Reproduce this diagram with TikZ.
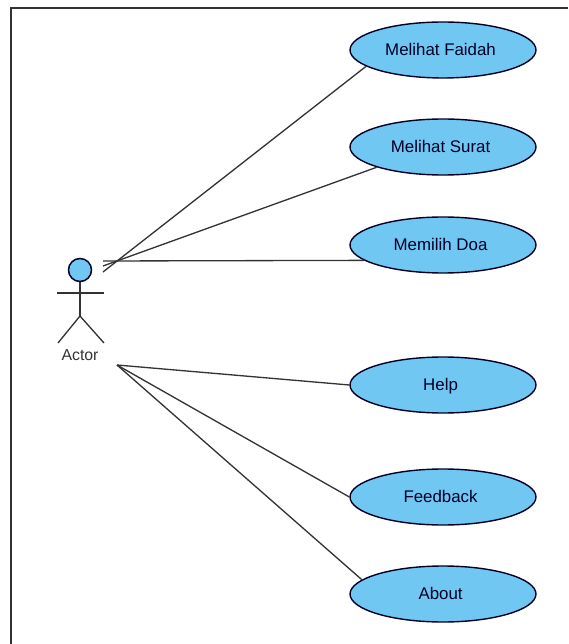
\documentclass[tikz,border=0pt]{standalone}
\usepackage{fontspec}
\setmainfont{Liberation Sans}
\usetikzlibrary{positioning,shapes.geometric}
\definecolor{ucblue}{HTML}{6FC7F2}
\definecolor{ucline}{HTML}{333333}

\begin{document}
\begin{tikzpicture}[x=.02cm,y=-.02cm,
	usecase/.style={ellipse,draw=black!85!blue,line width=.8pt,fill=ucblue,minimum width=3.72cm,minimum height=1.12cm,inner sep=0pt,font=\fontsize{9.6}{11}\selectfont,text=black!85!blue,text height=6.8pt,text depth=0pt,execute at end node=\hskip 2.8pt},
	assoc/.style={draw=ucline,line width=.75pt},
	stick/.style={draw=black!80,line width=.75pt}]

		\useasboundingbox (0,0) rectangle (568,644);

		%frame
		\draw[line width=1.2pt,black!80] (11,644) -- (11,8) -- (568,8);

		%actor
		\node[circle,draw=black!85!blue,line width=.85pt,fill=ucblue,minimum size=.46cm,inner sep=0pt] (head) at (80,270) {};
		\coordinate (hip) at (80,316);
		\coordinate (armL) at (57,293);
		\coordinate (armR) at (104,293);
		\coordinate (legL) at (58,343);
		\coordinate (legR) at (104,343);
		\node[font=\fontsize{9}{10}\selectfont,text=black!80,inner sep=0pt] (actor) at (80,355) {Actor};
		\draw[stick] (head) -- (hip);
		\draw[stick] (armL) -- (armR);
		\draw[stick] (legL) -- (hip) -- (legR);

		%use cases
		\node[usecase] (n1) at (443,50) {Melihat Faidah};
		\node[usecase] (n2) at (443,147) {Melihat Surat};
		\node[usecase] (n3) at (443,245) {Memilih Doa};
		\node[usecase] (n4) at (443,385) {Help};
		\node[usecase] (n5) at (443,497) {Feedback};
		\node[usecase] (n6) at (443,594) {About};

		%free ends
		\coordinate (a1) at (103,272);
		\coordinate (a2) at (103,266);
		\coordinate (a3) at (103,261);
		\coordinate (a4) at (117,365);

		%edges
		\draw[assoc] (a1) -- (n1.192);
		\draw[assoc] (a2) -- (n2.197);
		\draw[assoc] (a3) -- (n3.191);
		\draw[assoc] (a4) -- (n4.west);
		\draw[assoc] (a4) -- (n5.west);
		\draw[assoc] (a4) -- (n6.170);

		\end{tikzpicture}
\end{document}
